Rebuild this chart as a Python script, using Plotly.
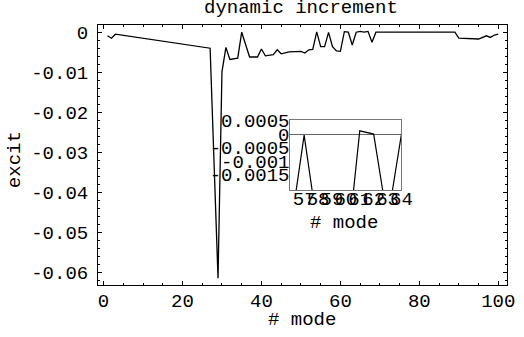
import plotly.graph_objects as go

# data
modes = [1, 2, 3, 27, 29, 30, 31, 32, 34, 35, 37, 39, 40, 41, 43, 44, 45, 47, 50,
         51, 52, 53, 54, 55, 56, 57, 58, 59, 60, 61, 62, 63, 64, 65, 66, 67, 68,
         69, 70, 71, 72, 73, 74, 75, 76, 77, 78, 79, 80, 81, 82, 83, 84, 85, 86,
         87, 88, 89, 90, 95, 97, 98, 99, 100]
excit = [-0.0009, -0.0015, -0.0005, -0.0040, -0.0615, -0.0099, -0.0038, -0.0068,
         -0.0065, 0.0000, -0.0062, -0.0062, -0.0042, -0.0059, -0.0056, -0.0044,
         -0.0054, -0.0049, -0.0048, -0.0052, -0.0044, -0.0043, 0.0001, -0.0036,
         -0.0036, -0.00004, -0.0036, -0.0047, -0.0048, 0.00012, 0.0000, -0.0032,
         0.0000, 0.0002, 0.0000, 0.0002, -0.0025, 0.0000,
         0.0, 0.0, 0.0, 0.0, 0.0, 0.0, 0.0, 0.0, 0.0, 0.0, 0.0, 0.0, 0.0, 0.0,
         0.0, 0.0, 0.0, 0.0, 0.0, 0.0,
         -0.0015, -0.0017, -0.0009, -0.0013, -0.0007, -0.0005, -0.0006]

x_ticks = [0, 20, 40, 60, 80, 100]
x_ticktext = ["0", "20", "40", "60", "80", "100"]
y_ticks = [0, -0.01, -0.02, -0.03, -0.04, -0.05, -0.06]
y_ticktext = ["0", "-0.01", "-0.02", "-0.03", "-0.04", "-0.05", "-0.06"]

inset_x_ticks = [57, 58, 59, 60, 61, 62, 63, 64]
inset_x_ticktext = ["57", "58", "59", "60", "61", "62", "63", "64"]
inset_y_ticks = [0.0005, 0, -0.0005, -0.001, -0.0015]
inset_y_ticktext = ["0.0005", "0", "-0.0005", "-0.001", "-0.0015"]

FONT = "Liberation Mono"
FS = 19

fig = go.Figure()
fig.add_trace(go.Scatter(x=modes, y=excit, mode="lines",
                         line=dict(color="black", width=1.3),
                         showlegend=False, hoverinfo="skip"))
fig.add_trace(go.Scatter(x=modes, y=excit, mode="lines", xaxis="x2", yaxis="y2",
                         line=dict(color="black", width=1.2),
                         showlegend=False, hoverinfo="skip"))

fig.update_layout(
    width=524, height=337,
    margin=dict(l=98, r=6, t=25, b=52),
    paper_bgcolor="white", plot_bgcolor="white",
    font=dict(family=FONT, size=FS, color="black"),
    xaxis=dict(range=[-1.4, 102.2], tickmode="array", tickvals=x_ticks,
               ticktext=x_ticktext, ticks="inside", ticklen=4, tickwidth=1,
               tickcolor="black", showline=True, linecolor="black", linewidth=1,
               mirror="ticks", showgrid=False, zeroline=False, tickangle=0,
               ticklabelstandoff=-2,
               minor=dict(tickmode="linear", tick0=0, dtick=5, ticks="inside",
                          ticklen=2, tickcolor="black", showgrid=False)),
    yaxis=dict(range=[-0.0632, 0.0018], tickmode="array", tickvals=y_ticks,
               ticktext=y_ticktext, ticks="inside", ticklen=4, tickwidth=1,
               tickcolor="black", showline=True, linecolor="black", linewidth=1,
               mirror="ticks", showgrid=False, zeroline=False, ticklabelstandoff=5,
               minor=dict(tickmode="linear", tick0=0, dtick=0.002, ticks="inside",
                          ticklen=2, tickcolor="black", showgrid=False)),
    xaxis2=dict(domain=[0.470, 0.742], anchor="y2", range=[56, 64],
                tickmode="array", tickvals=inset_x_ticks, ticktext=inset_x_ticktext,
                tickangle=0, ticks="", showline=True, linecolor="#777777",
                linewidth=0.8, mirror=True, showgrid=False, zeroline=False,
                ticklabelstandoff=-9),
    yaxis2=dict(domain=[0.3654, 0.6346], anchor="x2", range=[-0.00207, 0.00052],
                tickmode="array", tickvals=inset_y_ticks, ticktext=inset_y_ticktext,
                ticks="", showline=True, linecolor="#777777", linewidth=0.8,
                mirror=True, showgrid=False, zeroline=True, zerolinecolor="#666666",
                zerolinewidth=1, ticklabelstandoff=-4),
    annotations=[
        dict(text="dynamic increment", xref="paper", yref="paper", x=0.4964, y=1.064,
             xanchor="center", yanchor="middle", showarrow=False),
        dict(text="# mode", xref="paper", yref="paper", x=0.4988, y=-0.1346,
             xanchor="center", yanchor="middle", showarrow=False),
        dict(text="excit", xref="paper", yref="paper", x=-0.2024, y=0.481,
             xanchor="center", yanchor="middle", textangle=-90, showarrow=False),
        dict(text="# mode", xref="paper", yref="paper", x=0.6024, y=0.2396,
             xanchor="center", yanchor="middle", showarrow=False),
    ],
)

fig.write_html("out.html")
